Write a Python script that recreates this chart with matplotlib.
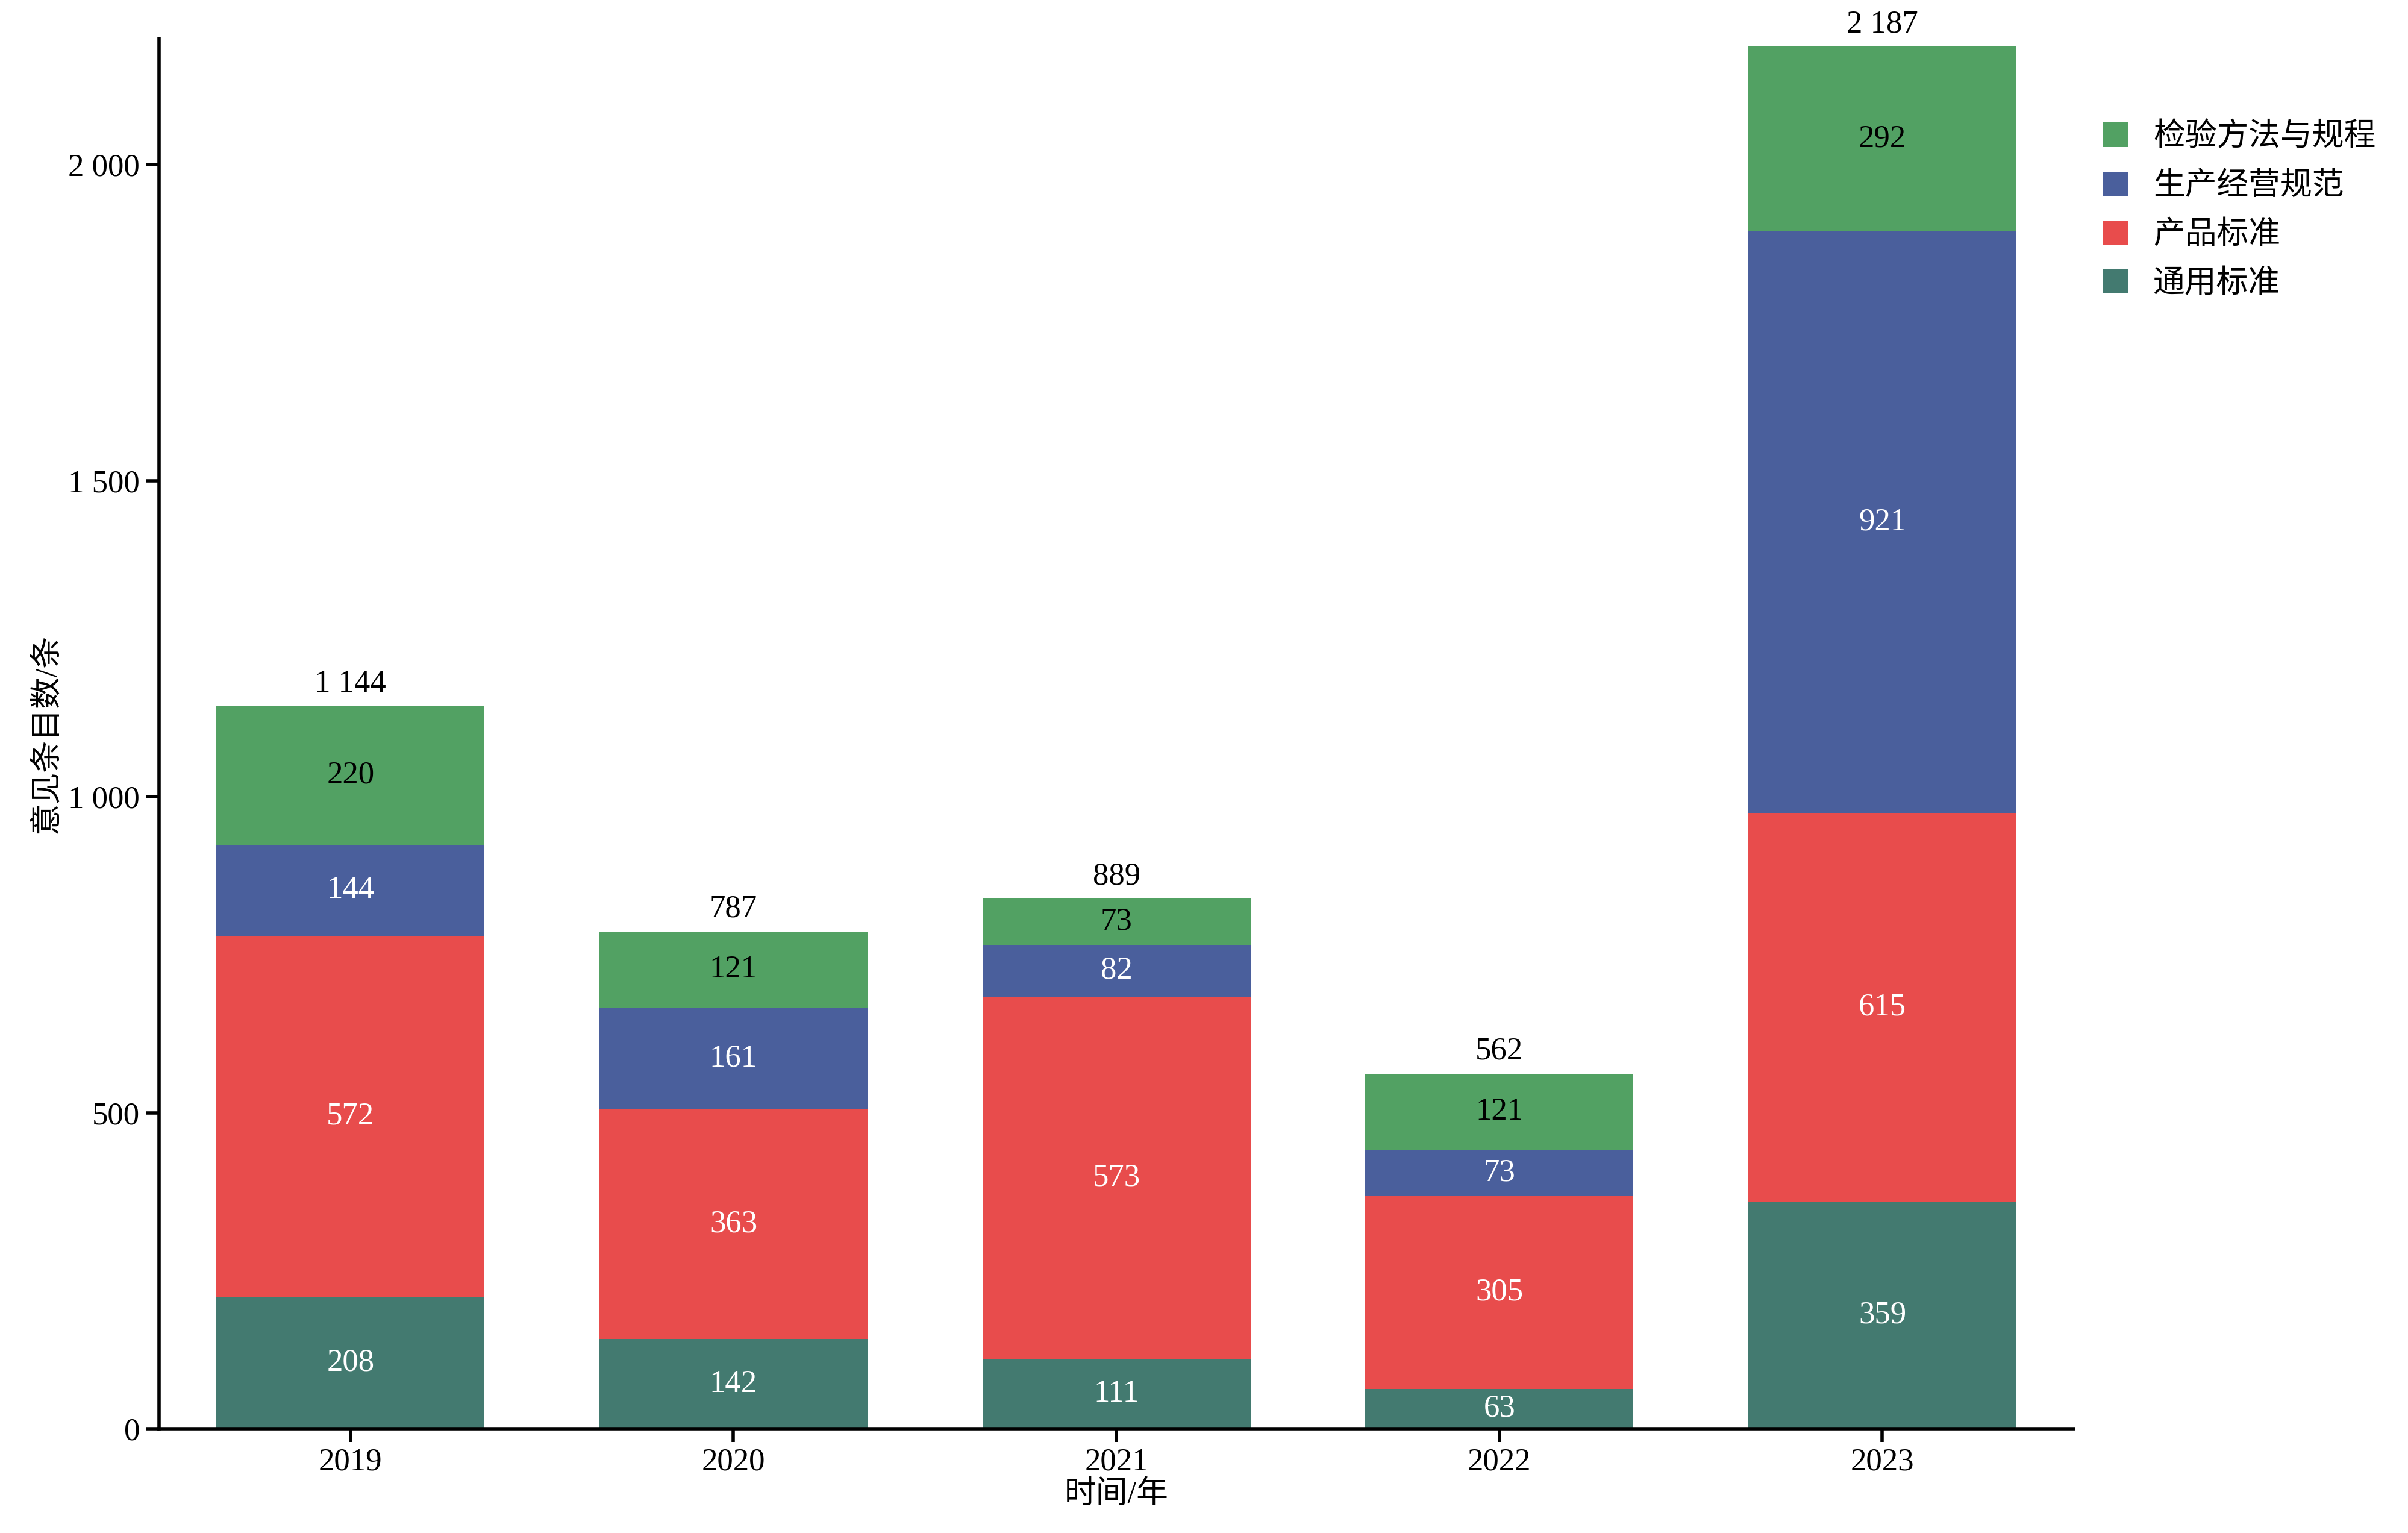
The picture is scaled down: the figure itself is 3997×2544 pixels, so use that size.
import numpy as np
import matplotlib.pyplot as plt

plt.rcParams['font.family'] = ['Liberation Serif', 'Noto Sans CJK SC']

years = ['2019', '2020', '2021', '2022', '2023']
general = [208, 142, 111, 63, 359]
product = [572, 363, 573, 305, 615]
production = [144, 161, 82, 73, 921]
testing = [220, 121, 73, 121, 292]
totals = ['1 144', '787', '889', '562', '2 187']
series_names = ['通用标准', '产品标准', '生产经营规范', '检验方法与规程']
colors = ['#437a70', '#e84c4c', '#4a5f9c', '#52a163']
label_colors = ['white', 'white', 'white', 'black']
yticks = [0, 500, 1000, 1500, 2000]
ytick_labels = ['0', '500', '1 000', '1 500', '2 000']

fig = plt.figure(figsize=(19.99, 12.72), dpi=200)
ax = fig.add_axes([0.066, 0.068, 0.795, 0.907])

x = np.arange(len(years))
bottom = np.zeros(len(years))
handles = []
for vals, name, c, lc in zip([general, product, production, testing], series_names, colors, label_colors):
    vals = np.array(vals)
    b = ax.bar(x, vals, 0.7, bottom=bottom, color=c, label=name)
    handles.append(b)
    for xi, v, b0 in zip(x, vals, bottom):
        ax.text(xi, b0 + v / 2, str(v), ha='center', va='center', color=lc, fontsize=19)
    bottom = bottom + vals
for xi, t, top in zip(x, totals, bottom):
    ax.text(xi, top + 12, t, ha='center', va='bottom', fontsize=19)

ax.set_ylim(0, 2200)
ax.set_xlim(-0.5, 4.5)
ax.set_yticks(yticks)
ax.set_yticklabels(ytick_labels)
ax.set_xticks(x)
ax.set_xticklabels(years)
ax.tick_params(labelsize=19, width=2, length=8)
ax.spines['top'].set_visible(False)
ax.spines['right'].set_visible(False)
ax.spines['left'].set_linewidth(2)
ax.spines['bottom'].set_linewidth(2)
ax.set_xlabel('时间/年', fontsize=19, labelpad=2)
ax.set_ylabel('意见条目数/条', fontsize=19)

ax.legend(handles[::-1], series_names[::-1], loc='upper left', bbox_to_anchor=(1.0, 0.96),
          frameon=False, fontsize=19, handlelength=0.8, handleheight=0.8, labelspacing=0.6)

fig.savefig('out.png')
